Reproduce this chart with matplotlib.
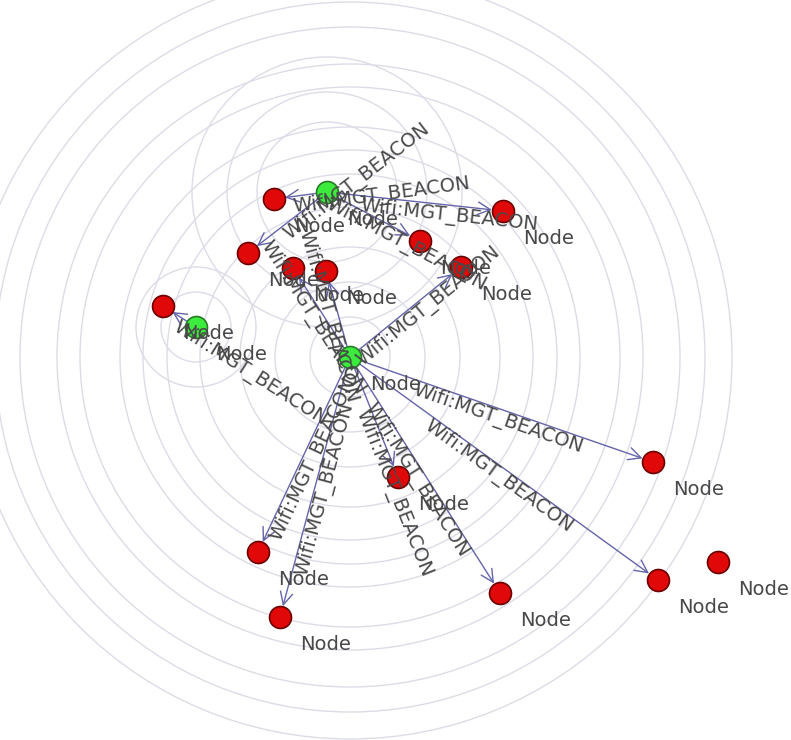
import numpy as np
import matplotlib
matplotlib.use('Agg')
import matplotlib.pyplot as plt
from matplotlib.patches import Circle

# node positions on the animator canvas (px, y goes down)
node_x = [327, 196, 350, 274, 503, 248, 420, 293, 326, 461, 163, 398, 653, 258, 280, 500, 658, 718]
node_y = [192, 327, 357, 199, 211, 253, 241, 268, 271, 267, 306, 477, 462, 552, 617, 593, 580, 562]
# first three are the access points (green), rest are stations (red)
node_is_ap = [True, True, True] + [False] * 15
node_label = "Node"

# packets in flight: source -> destination
edge_src = [2, 2, 2, 2, 2, 2, 2, 2, 2, 0, 0, 0, 0, 1]
edge_dst = [12, 16, 15, 14, 13, 11, 9, 8, 7, 3, 5, 4, 6, 10]
edge_label = "Wifi:MGT_BEACON"
# where along each line the label sits (fraction src->dst)
label_t = [0.5, 0.5, 0.5, 0.5, 0.5, 1.1, 0.65, 0.5, 0.5, -1.0, -0.3, 0.7, 0.9, -1.8]

# wifi range rings: centre node and radius
ring_node = [2] * 12 + [0, 0, 0, 1, 1]
ring_r = [382, 355, 330, 293, 270, 230, 207, 183, 150, 110, 75, 40,
          70, 100, 135, 35, 60]

W, H = 791, 740
fig = plt.figure(figsize=(W / 100, H / 100), dpi=100)
ax = fig.add_axes([0, 0, 1, 1])
ax.set_xlim(0, W)
ax.set_ylim(H, 0)
ax.axis('off')

# rings
for n, r in zip(ring_node, ring_r):
    ax.add_patch(Circle((node_x[n], node_y[n]), r, fill=False,
                        ec='#dcdce8', lw=1.0, zorder=1))

# arrows + labels
node_r_pt = 8
for s, d, t in zip(edge_src, edge_dst, label_t):
    x1, y1 = node_x[s], node_y[s]
    x2, y2 = node_x[d], node_y[d]
    ax.annotate('', xy=(x2, y2), xytext=(x1, y1),
                arrowprops=dict(arrowstyle='->,head_length=0.9,head_width=0.45',
                                color='#6464aa', lw=1.0,
                                shrinkA=node_r_pt, shrinkB=node_r_pt),
                zorder=2)
    ang = np.degrees(np.arctan2(-(y2 - y1), x2 - x1))
    if ang > 90:
        ang -= 180
    elif ang <= -90:
        ang += 180
    lx = x1 + t * (x2 - x1)
    ly = y1 + t * (y2 - y1)
    ax.text(lx, ly, edge_label, rotation=ang, rotation_mode='anchor',
            ha='center', va='top', fontsize=14, color='#484848', zorder=4)

# nodes
for x, y, ap in zip(node_x, node_y, node_is_ap):
    fc = '#3cec3c' if ap else '#e00808'
    ec = '#2a7a2a' if ap else '#6a0000'
    ax.scatter([x], [y], s=250, c=fc, edgecolors=ec, linewidths=1.2, zorder=3)
    ax.text(x + 20, y + 18, node_label, ha='left', va='top',
            fontsize=14, color='#484848', zorder=4)

fig.savefig('out.png', dpi=100)
